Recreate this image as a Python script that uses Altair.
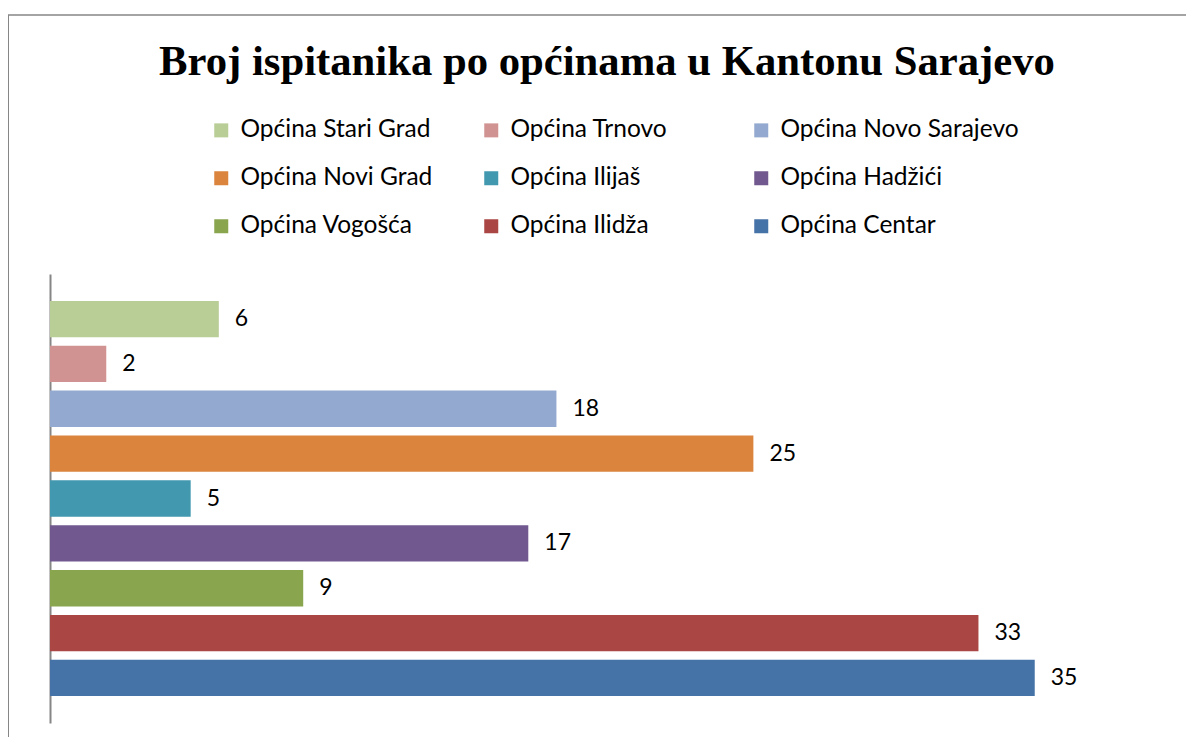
import altair as alt
import pandas as pd

categories = ["Općina Stari Grad", "Općina Trnovo", "Općina Novo Sarajevo",
              "Općina Novi Grad", "Općina Ilijaš", "Općina Hadžići",
              "Općina Vogošća", "Općina Ilidža", "Općina Centar"]
values = [6, 2, 18, 25, 5, 17, 9, 33, 35]
colors = ["#B9CD96", "#D19392", "#93A9CF", "#DB843D", "#4198AF",
          "#71588F", "#89A54E", "#AA4643", "#4572A7"]

df = pd.DataFrame({"opcina": categories, "broj": values})

W, H = 1124, 449

y_enc = alt.Y("opcina:N", sort=categories,
              scale=alt.Scale(paddingInner=0.19, paddingOuter=0.6),
              axis=alt.Axis(title=None, labels=False, ticks=False,
                            domain=True, domainColor="#868686", domainWidth=2))
x_enc = alt.X("broj:Q", scale=alt.Scale(domain=[0, 39.95], nice=False), axis=None)

bars = alt.Chart(df).mark_bar(cornerRadius=0).encode(
    x=x_enc,
    y=y_enc,
    color=alt.Color("opcina:N", sort=categories,
                    scale=alt.Scale(domain=categories, range=colors),
                    legend=alt.Legend(title=None, orient="none", legendX=159, legendY=-156,
                                      direction="horizontal",
                                      columns=3, gridAlign="all", columnPadding=-3,
                                      rowPadding=23, symbolType="square", symbolSize=196,
                                      symbolStrokeWidth=0, labelOffset=7,
                                      labelFont="Lato", labelFontSize=24.5,
                                      labelColor="#000000", labelLimit=400, padding=0)),
)

labels = alt.Chart(df).mark_text(align="left", baseline="middle", dx=16,
                                 font="Lato", fontSize=23, color="#000000").encode(
    x=x_enc, y=y_enc, text="broj:Q")

frame_df = pd.DataFrame({"k": [0]})
top_line = alt.Chart(frame_df).mark_rule(color="#868686", strokeWidth=1.5, clip=False).encode(
    x=alt.value(-42), x2=alt.value(1300), y=alt.value(-259))
left_line = alt.Chart(frame_df).mark_rule(color="#868686", strokeWidth=2, clip=False).encode(
    x=alt.value(-42), y=alt.value(-259), y2=alt.value(600))

chart = alt.layer(top_line, left_line, bars, labels).properties(
    width=W, height=H,
    autosize=alt.AutoSizeParams(type="none"),
    padding={"left": 42, "top": 266, "right": 12, "bottom": 14},
    title=alt.Title("Broj ispitanika po općinama u Kantonu Sarajevo",
                    font="Liberation Serif", fontSize=42.7, fontWeight="bold",
                    color="#000000", anchor="middle", dx=-5,
                    baseline="alphabetic", offset=0, dy=104),
).configure_view(stroke=None)

chart.save("out.html", embed_options={"renderer": "svg", "actions": False})
